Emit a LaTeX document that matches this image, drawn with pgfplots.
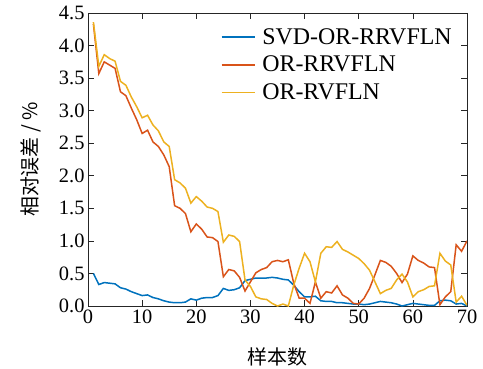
\documentclass[border=0pt]{standalone}
\usepackage{pgfplots}
\pgfplotsset{compat=1.18}
\usepackage{fontspec}
\setmainfont{Liberation Serif}
\newfontfamily\cjk{Noto Sans CJK SC}
\definecolor{mblue}{rgb}{0,0.447,0.741}
\definecolor{mred}{rgb}{0.85,0.325,0.098}
\definecolor{myel}{rgb}{0.929,0.694,0.125}
\begin{document}
\begin{tikzpicture}
\begin{axis}[
  scale only axis, width=379bp, height=293bp,
  xmin=0, xmax=70, ymin=0, ymax=4.5,
  xtick={0,10,...,70}, ytick={0,0.5,...,4.5},
  yticklabel style={/pgf/number format/.cd,fixed,fixed zerofill,precision=1},
  /pgf/number format/assume math mode=true,
  tick align=inside, major tick length=6bp,
  tick style={line width=0.7bp, color=black!85},
  axis line style={line width=0.9bp, color=black!85},
  ticklabel style={font=\fontsize{20.5}{20.5}\selectfont},
  xlabel={\cjk\fontsize{20}{20}\selectfont 样本数},
  ylabel={\cjk\fontsize{20}{20}\selectfont 相对误差 / \%},
  xlabel style={yshift=-18bp},
  ylabel style={yshift=11bp},
  legend style={draw=none, fill=none, at={(0.342,0.962)}, anchor=north west,
    font=\fontsize{24}{24}\selectfont, row sep=6.5bp, column sep=5bp},
  legend cell align=left,
  legend image code/.code={\draw[#1] (0bp,0bp) -- (33bp,0bp);},
  every axis plot/.append style={line width=1.5bp},
]
\addplot[mblue] coordinates {(1,0.50)(2,0.33)(3,0.36)(4,0.35)(5,0.34)(6,0.28)(7,0.26)(8,0.22)(9,0.19)(10,0.16)(11,0.17)(12,0.13)(13,0.11)(14,0.08)(15,0.06)(16,0.05)(17,0.05)(18,0.06)(19,0.11)(20,0.09)(21,0.12)(22,0.13)(23,0.13)(24,0.16)(25,0.27)(26,0.24)(27,0.25)(28,0.28)(29,0.39)(30,0.41)(31,0.43)(32,0.43)(33,0.43)(34,0.44)(35,0.43)(36,0.41)(37,0.40)(38,0.32)(39,0.22)(40,0.14)(41,0.14)(42,0.15)(43,0.08)(44,0.07)(45,0.07)(46,0.05)(47,0.05)(48,0.04)(49,0.03)(50,0.03)(51,0.02)(52,0.03)(53,0.05)(54,0.07)(55,0.06)(56,0.05)(57,0.03)(58,0.00)(59,0.02)(60,0.04)(61,0.03)(62,0.02)(63,0.01)(64,0.01)(65,0.08)(66,0.09)(67,0.08)(68,0.03)(69,0.04)(70,0.00)};
\addlegendentry{SVD-OR-RRVFLN}
\addplot[mred] coordinates {(1,4.33)(2,3.57)(3,3.75)(4,3.70)(5,3.65)(6,3.29)(7,3.23)(8,3.04)(9,2.86)(10,2.65)(11,2.70)(12,2.52)(13,2.45)(14,2.32)(15,2.14)(16,1.54)(17,1.50)(18,1.42)(19,1.14)(20,1.26)(21,1.18)(22,1.06)(23,1.05)(24,0.99)(25,0.45)(26,0.56)(27,0.54)(28,0.44)(29,0.23)(30,0.37)(31,0.51)(32,0.56)(33,0.59)(34,0.68)(35,0.70)(36,0.68)(37,0.71)(38,0.35)(39,0.12)(40,0.12)(41,0.04)(42,0.37)(43,0.12)(44,0.22)(45,0.20)(46,0.31)(47,0.17)(48,0.12)(49,0.04)(50,0.03)(51,0.12)(52,0.27)(53,0.48)(54,0.70)(55,0.67)(56,0.61)(57,0.50)(58,0.36)(59,0.49)(60,0.77)(61,0.70)(62,0.66)(63,0.60)(64,0.59)(65,0.02)(66,0.14)(67,0.22)(68,0.94)(69,0.84)(70,1.00)};
\addlegendentry{OR-RRVFLN}
\addplot[myel] coordinates {(1,4.36)(2,3.68)(3,3.86)(4,3.80)(5,3.76)(6,3.45)(7,3.39)(8,3.21)(9,3.06)(10,2.89)(11,2.93)(12,2.78)(13,2.69)(14,2.52)(15,2.45)(16,1.94)(17,1.89)(18,1.81)(19,1.58)(20,1.68)(21,1.61)(22,1.52)(23,1.50)(24,1.45)(25,0.98)(26,1.09)(27,1.07)(28,0.99)(29,0.40)(30,0.30)(31,0.14)(32,0.11)(33,0.10)(34,0.04)(35,0.00)(36,0.03)(37,0.00)(38,0.32)(39,0.58)(40,0.81)(41,0.68)(42,0.37)(43,0.81)(44,0.91)(45,0.90)(46,0.99)(47,0.87)(48,0.83)(49,0.78)(50,0.73)(51,0.65)(52,0.55)(53,0.37)(54,0.19)(55,0.24)(56,0.27)(57,0.40)(58,0.49)(59,0.37)(60,0.14)(61,0.22)(62,0.25)(63,0.30)(64,0.31)(65,0.81)(66,0.69)(67,0.63)(68,0.06)(69,0.15)(70,0.01)};
\addlegendentry{OR-RVFLN}
\end{axis}
\pgfresetboundingbox
\path[use as bounding box] (-88bp,-63bp) rectangle (395bp,306bp);
\end{tikzpicture}
\end{document}
